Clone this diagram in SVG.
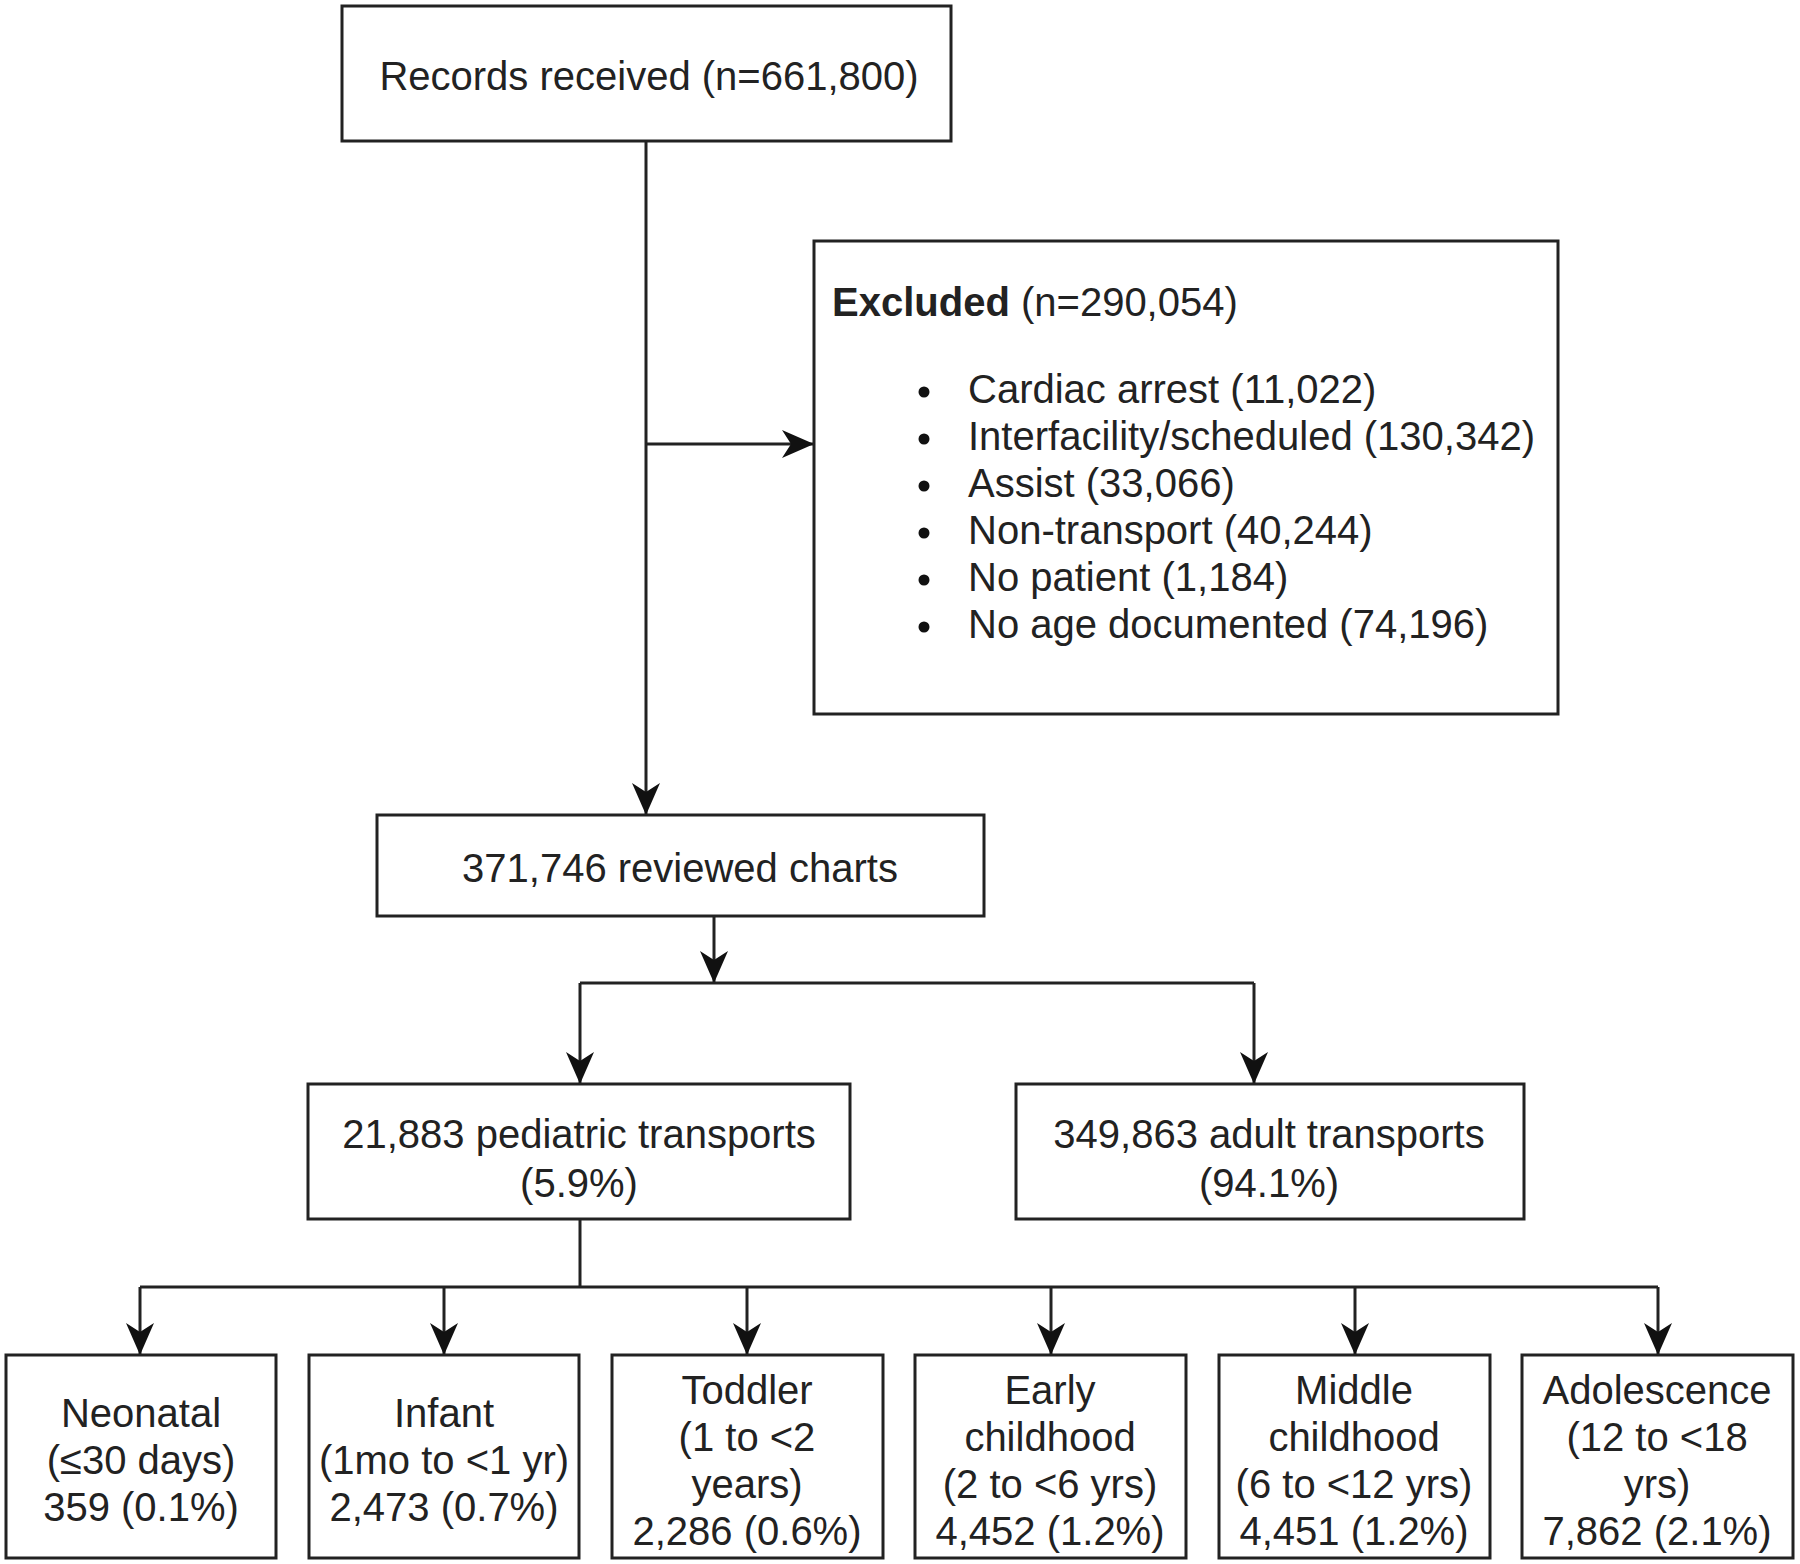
<svg xmlns="http://www.w3.org/2000/svg" width="1800" height="1564" viewBox="0 0 1800 1564">
<style>
.box{fill:#fff;stroke:#222;stroke-width:3}
.t{font-family:"Liberation Sans",Arial,Helvetica,sans-serif;font-size:40px;fill:#222}
.c{text-anchor:middle}
.ln{fill:none;stroke:#222;stroke-width:3}
</style>
<defs>
<marker id="arr" markerUnits="userSpaceOnUse" markerWidth="32" markerHeight="30" viewBox="0 0 32 30" refX="32" refY="15" orient="auto">
<path d="M0,1 L32,15 L0,29 L9,15 Z" fill="#111"/>
</marker>
</defs>
<rect width="1800" height="1564" fill="#fff"/>
<g id="connectors">
<path class="ln" d="M646,141 V815" marker-end="url(#arr)"/>
<path class="ln" d="M646,444 H814" marker-end="url(#arr)"/>
<path class="ln" d="M714,916 V983" marker-end="url(#arr)"/>
<path class="ln" d="M580,983 H1254"/>
<path class="ln" d="M580,983 V1084" marker-end="url(#arr)"/>
<path class="ln" d="M1254,983 V1084" marker-end="url(#arr)"/>
<path class="ln" d="M580,1219 V1287"/>
<path class="ln" d="M140,1287 H1658"/>
<path class="ln" d="M140,1287 V1355" marker-end="url(#arr)"/>
<path class="ln" d="M444,1287 V1355" marker-end="url(#arr)"/>
<path class="ln" d="M747,1287 V1355" marker-end="url(#arr)"/>
<path class="ln" d="M1051,1287 V1355" marker-end="url(#arr)"/>
<path class="ln" d="M1355,1287 V1355" marker-end="url(#arr)"/>
<path class="ln" d="M1658,1287 V1355" marker-end="url(#arr)"/>
</g>
<g id="records">
<rect class="box" x="342" y="6" width="609" height="135"/>
<text class="t c" x="649" y="90">Records received (n=661,800)</text>
</g>
<g id="excluded">
<rect class="box" x="814" y="241" width="744" height="473"/>
<text class="t" x="832" y="316"><tspan font-weight="bold">Excluded</tspan> (n=290,054)</text>
<g fill="#111">
<circle cx="924" cy="392" r="5.5"/>
<circle cx="924" cy="439" r="5.5"/>
<circle cx="924" cy="486" r="5.5"/>
<circle cx="924" cy="533" r="5.5"/>
<circle cx="924" cy="580" r="5.5"/>
<circle cx="924" cy="627" r="5.5"/>
</g>
<text class="t" x="968" y="403">Cardiac arrest (11,022)</text>
<text class="t" x="968" y="450">Interfacility/scheduled (130,342)</text>
<text class="t" x="968" y="497">Assist (33,066)</text>
<text class="t" x="968" y="544">Non-transport (40,244)</text>
<text class="t" x="968" y="591">No patient (1,184)</text>
<text class="t" x="968" y="638">No age documented (74,196)</text>
</g>
<g id="reviewed">
<rect class="box" x="377" y="815" width="607" height="101"/>
<text class="t c" x="680" y="882">371,746 reviewed charts</text>
</g>
<g id="pediatric">
<rect class="box" x="308" y="1084" width="542" height="135"/>
<text class="t c" x="579" y="1148">21,883 pediatric transports</text>
<text class="t c" x="579" y="1197">(5.9%)</text>
</g>
<g id="adult">
<rect class="box" x="1016" y="1084" width="508" height="135"/>
<text class="t c" x="1269" y="1148">349,863 adult transports</text>
<text class="t c" x="1269" y="1197">(94.1%)</text>
</g>
<g id="neonatal">
<rect class="box" x="6" y="1355" width="270" height="203"/>
<text class="t c" x="141" y="1427">Neonatal</text>
<text class="t c" x="141" y="1474">(≤30 days)</text>
<text class="t c" x="141" y="1521">359 (0.1%)</text>
</g>
<g id="infant">
<rect class="box" x="309" y="1355" width="270" height="203"/>
<text class="t c" x="444" y="1427">Infant</text>
<text class="t c" x="444" y="1474">(1mo to &lt;1 yr)</text>
<text class="t c" x="444" y="1521">2,473 (0.7%)</text>
</g>
<g id="toddler">
<rect class="box" x="612" y="1355" width="271" height="203"/>
<text class="t c" x="747" y="1404">Toddler</text>
<text class="t c" x="747" y="1451">(1 to &lt;2</text>
<text class="t c" x="747" y="1498">years)</text>
<text class="t c" x="747" y="1545">2,286 (0.6%)</text>
</g>
<g id="early">
<rect class="box" x="915" y="1355" width="271" height="203"/>
<text class="t c" x="1050" y="1404">Early</text>
<text class="t c" x="1050" y="1451">childhood</text>
<text class="t c" x="1050" y="1498">(2 to &lt;6 yrs)</text>
<text class="t c" x="1050" y="1545">4,452 (1.2%)</text>
</g>
<g id="middle">
<rect class="box" x="1219" y="1355" width="271" height="203"/>
<text class="t c" x="1354" y="1404">Middle</text>
<text class="t c" x="1354" y="1451">childhood</text>
<text class="t c" x="1354" y="1498">(6 to &lt;12 yrs)</text>
<text class="t c" x="1354" y="1545">4,451 (1.2%)</text>
</g>
<g id="adolescence">
<rect class="box" x="1522" y="1355" width="271" height="203"/>
<text class="t c" x="1657" y="1404">Adolescence</text>
<text class="t c" x="1657" y="1451">(12 to &lt;18</text>
<text class="t c" x="1657" y="1498">yrs)</text>
<text class="t c" x="1657" y="1545">7,862 (2.1%)</text>
</g>
</svg>
